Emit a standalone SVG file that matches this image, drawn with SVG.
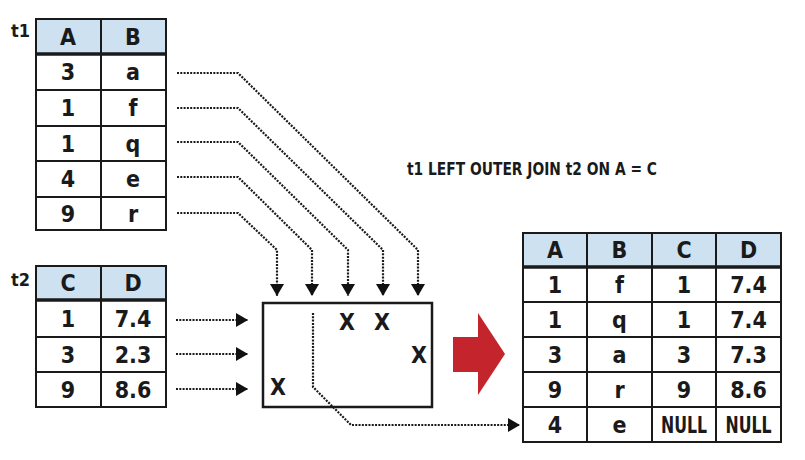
<svg xmlns="http://www.w3.org/2000/svg" width="805" height="460" viewBox="0 0 805 460">
<defs>
<style>
.cell{fill:#fff;stroke:#1a1a1a;stroke-width:2}
.hdr{fill:#cde1f1;stroke:#1a1a1a;stroke-width:2}
.ln{stroke:#1a1a1a;stroke-width:2;fill:none}
.thick{stroke:#1a1a1a;stroke-width:3.5;fill:none}
.t{font-family:"DejaVu Sans Condensed","DejaVu Sans",sans-serif;font-weight:bold;font-size:23px;fill:#1a1a1a;text-anchor:middle}
.lbl{font-family:"DejaVu Sans Condensed","DejaVu Sans",sans-serif;font-weight:bold;font-size:18px;fill:#1a1a1a}
.dot{stroke:#1a1a1a;stroke-width:2.2;fill:none;stroke-dasharray:2 1.3}
</style>
<marker id="ah" viewBox="0 0 12 14" refX="12" refY="7" markerWidth="12" markerHeight="14" orient="auto" markerUnits="userSpaceOnUse">
<path d="M0,0 L12,7 L0,14 z" fill="#111"/>
</marker>
</defs>
<rect width="805" height="460" fill="#fff"/>

<g id="t1">
<text class="lbl" x="11" y="37">t1</text>
<rect class="hdr" x="36" y="19" width="130" height="35"/>
<rect class="cell" x="36" y="54" width="130" height="176"/>
<path class="ln" d="M101,19 V230 M36,90 H166 M36,126 H166 M36,161 H166 M36,197 H166"/>
<path class="thick" d="M36,54 H166"/>
<text class="t" x="68" y="45">A</text><text class="t" x="133" y="45">B</text>
<text class="t" x="68" y="80">3</text><text class="t" x="133" y="80">a</text>
<text class="t" x="68" y="116">1</text><text class="t" x="133" y="116">f</text>
<text class="t" x="68" y="152">1</text><text class="t" x="133" y="152">q</text>
<text class="t" x="68" y="187">4</text><text class="t" x="133" y="187">e</text>
<text class="t" x="68" y="222">9</text><text class="t" x="133" y="222">r</text>
</g>

<g id="t2">
<text class="lbl" x="11" y="286">t2</text>
<rect class="hdr" x="36" y="266" width="130" height="34"/>
<rect class="cell" x="36" y="300" width="130" height="107"/>
<path class="ln" d="M101,266 V407 M36,337 H166 M36,372 H166"/>
<path class="thick" d="M36,300 H166"/>
<text class="t" x="68" y="291">C</text><text class="t" x="133" y="291">D</text>
<text class="t" x="68" y="327">1</text><text class="t" x="133" y="327">7.4</text>
<text class="t" x="68" y="363">3</text><text class="t" x="133" y="363">2.3</text>
<text class="t" x="68" y="398">9</text><text class="t" x="133" y="398">8.6</text>
</g>

<g id="title">
<text class="lbl" x="407" y="175" font-size="19" textLength="250" lengthAdjust="spacingAndGlyphs">t1 LEFT OUTER JOIN t2 ON A = C</text>
</g>

<g id="joinbox">
<rect x="263" y="303" width="169" height="104" fill="#fff" stroke="#1a1a1a" stroke-width="2.5"/>
<text class="t" x="347" y="330">X</text>
<text class="t" x="382" y="330">X</text>
<text class="t" x="419" y="363">X</text>
<text class="t" x="278" y="395">X</text>
</g>

<g id="redarrow">
<path d="M453,337 H478 V313 L505,354 L478,395 V372 H453 z" fill="#c4252c"/>
</g>

<g id="result">
<rect class="hdr" x="523" y="233" width="258" height="34"/>
<rect class="cell" x="523" y="267" width="258" height="175"/>
<path class="ln" d="M587,233 V442 M652,233 V442 M716,233 V442 M523,302 H781 M523,337 H781 M523,372 H781 M523,407 H781"/>
<path class="thick" d="M523,267 H781"/>
<text class="t" x="555" y="258">A</text><text class="t" x="619.5" y="258">B</text><text class="t" x="684" y="258">C</text><text class="t" x="748.5" y="258">D</text>
<text class="t" x="555" y="293">1</text><text class="t" x="619.5" y="293">f</text><text class="t" x="684" y="293">1</text><text class="t" x="748.5" y="293">7.4</text>
<text class="t" x="555" y="328">1</text><text class="t" x="619.5" y="328">q</text><text class="t" x="684" y="328">1</text><text class="t" x="748.5" y="328">7.4</text>
<text class="t" x="555" y="363">3</text><text class="t" x="619.5" y="363">a</text><text class="t" x="684" y="363">3</text><text class="t" x="748.5" y="363">7.3</text>
<text class="t" x="555" y="398">9</text><text class="t" x="619.5" y="398">r</text><text class="t" x="684" y="398">9</text><text class="t" x="748.5" y="398">8.6</text>
<text class="t" x="555" y="433">4</text><text class="t" x="619.5" y="433">e</text><text class="t" x="684" y="433" textLength="46" lengthAdjust="spacingAndGlyphs">NULL</text><text class="t" x="748.5" y="433" textLength="46" lengthAdjust="spacingAndGlyphs">NULL</text>
</g>

<g id="connectors">
<path class="dot" d="M177,73 H238 L418,250 V296" marker-end="url(#ah)"/>
<path class="dot" d="M177,108 H238 L383,250 V296" marker-end="url(#ah)"/>
<path class="dot" d="M177,142 H238 L348,250 V296" marker-end="url(#ah)"/>
<path class="dot" d="M177,177 H238 L312,250 V296" marker-end="url(#ah)"/>
<path class="dot" d="M177,213 H238 L277,250 V296" marker-end="url(#ah)"/>
<path class="dot" d="M176,320 H248" marker-end="url(#ah)"/>
<path class="dot" d="M176,354 H248" marker-end="url(#ah)"/>
<path class="dot" d="M176,389 H248" marker-end="url(#ah)"/>
<path class="dot" d="M313,313 V387 L351,425 H520" marker-end="url(#ah)"/>
</g>
</svg>
